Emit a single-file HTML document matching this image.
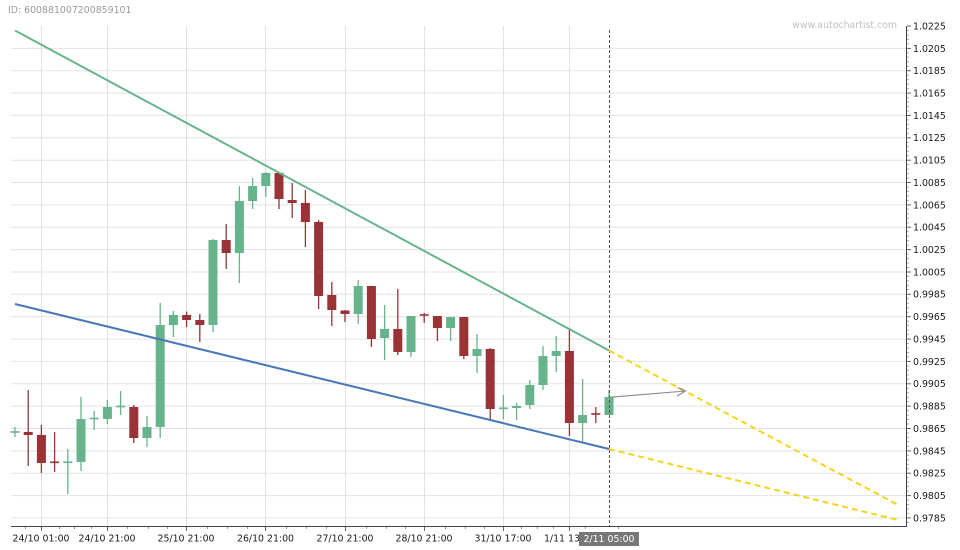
<!DOCTYPE html>
<html><head><meta charset="utf-8"><style>
html,body{margin:0;padding:0;background:#fff;}
svg{display:block;}
text{font-family:"DejaVu Sans","Liberation Sans",sans-serif;font-size:9.4px;}
</style></head><body>
<svg width="960" height="550" viewBox="0 0 960 550" xmlns="http://www.w3.org/2000/svg">
<rect width="960" height="550" fill="#fff"/>
<!-- horizontal grid -->
<g stroke="#e2e2e2" stroke-width="1">
<line x1="11" x2="907" y1="48.4" y2="48.4"/><line x1="11" x2="907" y1="70.7" y2="70.7"/><line x1="11" x2="907" y1="93.1" y2="93.1"/><line x1="11" x2="907" y1="115.4" y2="115.4"/><line x1="11" x2="907" y1="137.8" y2="137.8"/><line x1="11" x2="907" y1="160.2" y2="160.2"/><line x1="11" x2="907" y1="182.5" y2="182.5"/><line x1="11" x2="907" y1="204.9" y2="204.9"/><line x1="11" x2="907" y1="227.2" y2="227.2"/><line x1="11" x2="907" y1="249.6" y2="249.6"/><line x1="11" x2="907" y1="272" y2="272"/><line x1="11" x2="907" y1="294.3" y2="294.3"/><line x1="11" x2="907" y1="316.7" y2="316.7"/><line x1="11" x2="907" y1="339.1" y2="339.1"/><line x1="11" x2="907" y1="361.4" y2="361.4"/><line x1="11" x2="907" y1="383.8" y2="383.8"/><line x1="11" x2="907" y1="406.1" y2="406.1"/><line x1="11" x2="907" y1="428.5" y2="428.5"/><line x1="11" x2="907" y1="450.9" y2="450.9"/><line x1="11" x2="907" y1="473.2" y2="473.2"/><line x1="11" x2="907" y1="495.6" y2="495.6"/><line x1="11" x2="907" y1="517.9" y2="517.9"/>
</g>
<!-- vertical grid -->
<g stroke="#e2e2e2" stroke-width="1">
<line x1="41.5" x2="41.5" y1="26" y2="526"/><line x1="107.5" x2="107.5" y1="26" y2="526"/><line x1="186.5" x2="186.5" y1="26" y2="526"/><line x1="265.5" x2="265.5" y1="26" y2="526"/><line x1="345.5" x2="345.5" y1="26" y2="526"/><line x1="424.5" x2="424.5" y1="26" y2="526"/><line x1="503.5" x2="503.5" y1="26" y2="526"/><line x1="569.5" x2="569.5" y1="26" y2="526"/>
</g>
<!-- texts top -->
<text x="8" y="13" fill="#9a9a9a">ID: 600881007200859101</text>
<text x="897" y="28" fill="#c0c0c0" text-anchor="end">www.autochartist.com</text>

<!-- candles -->
<g id="candles">
<!-- green: #67b38b  red: #993336 -->
<g stroke="#67b38b" stroke-width="1.3">
<line x1="15" x2="15" y1="427" y2="437"/>
<line x1="67.8" x2="67.8" y1="449" y2="494"/>
<line x1="81" x2="81" y1="397" y2="471"/>
<line x1="94.2" x2="94.2" y1="411" y2="430"/>
<line x1="107.4" x2="107.4" y1="400" y2="424"/>
<line x1="120.6" x2="120.6" y1="391" y2="415"/>
<line x1="147" x2="147" y1="416" y2="447"/>
<line x1="160.2" x2="160.2" y1="303" y2="438"/>
<line x1="173.4" x2="173.4" y1="311" y2="337"/>
<line x1="213" x2="213" y1="239" y2="332"/>
<line x1="239.4" x2="239.4" y1="186" y2="283"/>
<line x1="252.6" x2="252.6" y1="178" y2="209"/>
<line x1="265.8" x2="265.8" y1="172" y2="197"/>
<line x1="358.2" x2="358.2" y1="280" y2="324"/>
<line x1="384.6" x2="384.6" y1="305" y2="360"/>
<line x1="411" x2="411" y1="316" y2="357"/>
<line x1="450.6" x2="450.6" y1="317" y2="341"/>
<line x1="477" x2="477" y1="334" y2="373"/>
<line x1="503.4" x2="503.4" y1="395" y2="419"/>
<line x1="516.6" x2="516.6" y1="403" y2="420"/>
<line x1="529.8" x2="529.8" y1="380" y2="409"/>
<line x1="543" x2="543" y1="346" y2="390"/>
<line x1="556.2" x2="556.2" y1="336" y2="372"/>
<line x1="582.6" x2="582.6" y1="379" y2="442"/>
<line x1="609" x2="609" y1="390" y2="415"/>
</g>
<g stroke="#993336" stroke-width="1.3">
<line x1="28.2" x2="28.2" y1="390" y2="466"/>
<line x1="41.4" x2="41.4" y1="425" y2="473"/>
<line x1="54.6" x2="54.6" y1="432" y2="472"/>
<line x1="133.8" x2="133.8" y1="405" y2="443"/>
<line x1="186.6" x2="186.6" y1="311.5" y2="327"/>
<line x1="199.8" x2="199.8" y1="314" y2="342"/>
<line x1="226.2" x2="226.2" y1="224" y2="269"/>
<line x1="279" x2="279" y1="172" y2="209"/>
<line x1="292.2" x2="292.2" y1="183" y2="218"/>
<line x1="305.4" x2="305.4" y1="190" y2="247"/>
<line x1="318.6" x2="318.6" y1="220" y2="309"/>
<line x1="331.8" x2="331.8" y1="282" y2="326"/>
<line x1="345" x2="345" y1="310" y2="322"/>
<line x1="371.4" x2="371.4" y1="286" y2="347"/>
<line x1="397.8" x2="397.8" y1="289" y2="355"/>
<line x1="424.2" x2="424.2" y1="313" y2="323"/>
<line x1="437.4" x2="437.4" y1="316" y2="341"/>
<line x1="463.8" x2="463.8" y1="317" y2="359"/>
<line x1="490.2" x2="490.2" y1="348" y2="419"/>
<line x1="569.4" x2="569.4" y1="328" y2="436"/>
<line x1="595.8" x2="595.8" y1="407" y2="423"/>
</g>
<!-- dojis -->
<g stroke-width="1.6">
<line x1="10.5" x2="19.5" y1="432" y2="432" stroke="#67b38b"/>
<line x1="50.1" x2="59.1" y1="462.3" y2="462.3" stroke="#993336"/>
<line x1="63.3" x2="72.3" y1="462.3" y2="462.3" stroke="#67b38b"/>
<line x1="89.7" x2="98.7" y1="418.5" y2="418.5" stroke="#67b38b"/>
<line x1="116.1" x2="125.1" y1="406.5" y2="406.5" stroke="#67b38b"/>
<line x1="419.7" x2="428.7" y1="315" y2="315" stroke="#993336"/>
<line x1="498.9" x2="507.9" y1="408.3" y2="408.3" stroke="#67b38b"/>
<line x1="591.3" x2="600.3" y1="414" y2="414" stroke="#993336"/>
</g>
<!-- bodies green -->
<g fill="#67b38b">
<rect x="76.5" y="419" width="9" height="43"/>
<rect x="102.9" y="407" width="9" height="12"/>
<rect x="142.5" y="427" width="9" height="11"/>
<rect x="155.7" y="325" width="9" height="102"/>
<rect x="168.9" y="315" width="9" height="10"/>
<rect x="208.5" y="240" width="9" height="85"/>
<rect x="234.9" y="201" width="9" height="52"/>
<rect x="248.1" y="186" width="9" height="15"/>
<rect x="261.3" y="173" width="9" height="13"/>
<rect x="353.7" y="286" width="9" height="28"/>
<rect x="380.1" y="329" width="9" height="9"/>
<rect x="406.5" y="316" width="9" height="36"/>
<rect x="446.1" y="317" width="9" height="11"/>
<rect x="472.5" y="349" width="9" height="7"/>
<rect x="512.1" y="406" width="9" height="2"/>
<rect x="525.3" y="385" width="9" height="20"/>
<rect x="538.5" y="356" width="9" height="29"/>
<rect x="551.7" y="351" width="9" height="5"/>
<rect x="578.1" y="415" width="9" height="8"/>
<rect x="604.5" y="397" width="9" height="18"/>
</g>
<!-- bodies red -->
<g fill="#993336">
<rect x="23.7" y="432" width="9" height="3"/>
<rect x="36.9" y="435" width="9" height="28"/>
<rect x="129.3" y="407" width="9" height="31"/>
<rect x="182.1" y="315" width="9" height="5"/>
<rect x="195.3" y="320" width="9" height="5"/>
<rect x="221.7" y="240" width="9" height="13"/>
<rect x="274.5" y="173" width="9" height="26"/>
<rect x="287.7" y="200" width="9" height="3"/>
<rect x="300.9" y="203" width="9" height="19"/>
<rect x="314.1" y="222" width="9" height="74"/>
<rect x="327.3" y="295" width="9" height="15"/>
<rect x="340.5" y="310.5" width="9" height="3.5"/>
<rect x="366.9" y="286" width="9" height="53"/>
<rect x="393.3" y="329" width="9" height="23"/>
<rect x="432.9" y="316" width="9" height="12"/>
<rect x="459.3" y="317" width="9" height="39"/>
<rect x="485.7" y="349" width="9" height="60"/>
<rect x="564.9" y="351" width="9" height="72"/>
</g>
</g>

<!-- vertical dashed current line -->
<line x1="609.5" x2="609.5" y1="30" y2="526" stroke="#555" stroke-width="1" stroke-dasharray="3,2"/>

<!-- trend lines -->
<line x1="15" y1="30.5" x2="609" y2="350.5" stroke="#67b38b" stroke-width="2"/>
<line x1="15" y1="304" x2="609" y2="449" stroke="#4a77b8" stroke-width="2"/>
<line x1="609" y1="350.5" x2="900" y2="506" stroke="#f7d31a" stroke-width="2" stroke-dasharray="6,4"/>
<line x1="609" y1="449" x2="900" y2="520.5" stroke="#f7d31a" stroke-width="2" stroke-dasharray="6,4"/>

<!-- arrow -->
<g stroke="#888" stroke-width="1.1" fill="none">
<line x1="609" y1="397.3" x2="685.5" y2="391"/>
<polyline points="677.5,387.5 685.5,391 677,396"/>
</g>

<!-- axes -->
<line x1="11" x2="907" y1="526.5" y2="526.5" stroke="#444" stroke-width="1"/>
<line x1="906.5" x2="906.5" y1="26" y2="527" stroke="#444" stroke-width="1"/>

<!-- y ticks major -->
<g stroke="#666" stroke-width="1">
<line x1="907" x2="911" y1="26" y2="26"/><line x1="907" x2="911" y1="48.4" y2="48.4"/><line x1="907" x2="911" y1="70.7" y2="70.7"/><line x1="907" x2="911" y1="93.1" y2="93.1"/><line x1="907" x2="911" y1="115.4" y2="115.4"/><line x1="907" x2="911" y1="137.8" y2="137.8"/><line x1="907" x2="911" y1="160.2" y2="160.2"/><line x1="907" x2="911" y1="182.5" y2="182.5"/><line x1="907" x2="911" y1="204.9" y2="204.9"/><line x1="907" x2="911" y1="227.2" y2="227.2"/><line x1="907" x2="911" y1="249.6" y2="249.6"/><line x1="907" x2="911" y1="272" y2="272"/><line x1="907" x2="911" y1="294.3" y2="294.3"/><line x1="907" x2="911" y1="316.7" y2="316.7"/><line x1="907" x2="911" y1="339.1" y2="339.1"/><line x1="907" x2="911" y1="361.4" y2="361.4"/><line x1="907" x2="911" y1="383.8" y2="383.8"/><line x1="907" x2="911" y1="406.1" y2="406.1"/><line x1="907" x2="911" y1="428.5" y2="428.5"/><line x1="907" x2="911" y1="450.9" y2="450.9"/><line x1="907" x2="911" y1="473.2" y2="473.2"/><line x1="907" x2="911" y1="495.6" y2="495.6"/><line x1="907" x2="911" y1="517.9" y2="517.9"/>
</g>
<!-- y ticks minor -->
<g stroke="#999" stroke-width="1" stroke-dasharray="1,3.47" >
<line x1="908" x2="910" y1="30.5" y2="30.5"/>
</g>
<path d="M907 30.5h2M907 35h2M907 39.4h2M907 43.9h2M907 52.9h2M907 57.3h2M907 61.8h2M907 66.3h2M907 75.2h2M907 79.7h2M907 84.2h2M907 88.6h2M907 97.6h2M907 102h2M907 106.5h2M907 111h2M907 119.9h2M907 124.4h2M907 128.8h2M907 133.3h2M907 142.3h2M907 146.7h2M907 151.2h2M907 155.7h2M907 164.6h2M907 169.1h2M907 173.6h2M907 178h2M907 187h2M907 191.4h2M907 195.9h2M907 200.4h2M907 209.3h2M907 213.8h2M907 218.3h2M907 222.7h2M907 231.7h2M907 236.2h2M907 240.6h2M907 245.1h2M907 254.1h2M907 258.5h2M907 263h2M907 267.5h2M907 276.4h2M907 280.9h2M907 285.4h2M907 289.8h2M907 298.8h2M907 303.2h2M907 307.7h2M907 312.2h2M907 321.2h2M907 325.6h2M907 330.1h2M907 334.6h2M907 343.5h2M907 348h2M907 352.5h2M907 356.9h2M907 365.9h2M907 370.3h2M907 374.8h2M907 379.3h2M907 388.2h2M907 392.7h2M907 397.2h2M907 401.6h2M907 410.6h2M907 415.1h2M907 419.5h2M907 424h2M907 433h2M907 437.4h2M907 441.9h2M907 446.4h2M907 455.3h2M907 459.8h2M907 464.3h2M907 468.7h2M907 477.7h2M907 482.1h2M907 486.6h2M907 491.1h2M907 500h2M907 504.5h2M907 509h2M907 513.4h2M907 522.4h2" stroke="#aaa" stroke-width="1"/>

<!-- y labels -->
<g fill="#1a1a1a">
<text x="913" y="29.4">1.0225</text><text x="913" y="51.8">1.0205</text><text x="913" y="74.1">1.0185</text><text x="913" y="96.5">1.0165</text><text x="913" y="118.8">1.0145</text><text x="913" y="141.2">1.0125</text><text x="913" y="163.6">1.0105</text><text x="913" y="185.9">1.0085</text><text x="913" y="208.3">1.0065</text><text x="913" y="230.6">1.0045</text><text x="913" y="253">1.0025</text><text x="913" y="275.4">1.0005</text><text x="913" y="297.7">0.9985</text><text x="913" y="320.1">0.9965</text><text x="913" y="342.5">0.9945</text><text x="913" y="364.8">0.9925</text><text x="913" y="387.2">0.9905</text><text x="913" y="409.5">0.9885</text><text x="913" y="431.9">0.9865</text><text x="913" y="454.3">0.9845</text><text x="913" y="476.6">0.9825</text><text x="913" y="499">0.9805</text><text x="913" y="521.3">0.9785</text>
</g>

<!-- x ticks -->
<path d="M41.5 527v4M107.5 527v4M186.5 527v4M265.5 527v4M345.5 527v4M424.5 527v4M503.5 527v4M569.5 527v4" stroke="#666" stroke-width="1"/>
<path d="M25.5 527v2M59.5 527v2M74.5 527v2M91.5 527v2M127.5 527v2M148.5 527v2M167.5 527v2M207.5 527v2M227.5 527v2M247.5 527v2M286.5 527v2M306.5 527v2M326.5 527v2M366.5 527v2M386.5 527v2M405.5 527v2M445.5 527v2M465.5 527v2M484.5 527v2M521.5 527v2M537.5 527v2M553.5 527v2M585.5 527v2M618.5 527v2" stroke="#999" stroke-width="1"/>

<!-- x labels -->
<g fill="#1a1a1a" text-anchor="middle">
<text x="41" y="541.5">24/10 01:00</text>
<text x="107" y="541.5">24/10 21:00</text>
<text x="186" y="541.5">25/10 21:00</text>
<text x="265.5" y="541.5">26/10 21:00</text>
<text x="345" y="541.5">27/10 21:00</text>
<text x="424" y="541.5">28/10 21:00</text>
<text x="503" y="541.5">31/10 17:00</text>
<text x="569.5" y="541.5">1/11 13:00</text>
</g>
<rect x="579" y="532" width="60" height="14" fill="#777"/>
<text x="609" y="541.8" fill="#fff" text-anchor="middle">2/11 05:00</text>
</svg>
</body></html>
